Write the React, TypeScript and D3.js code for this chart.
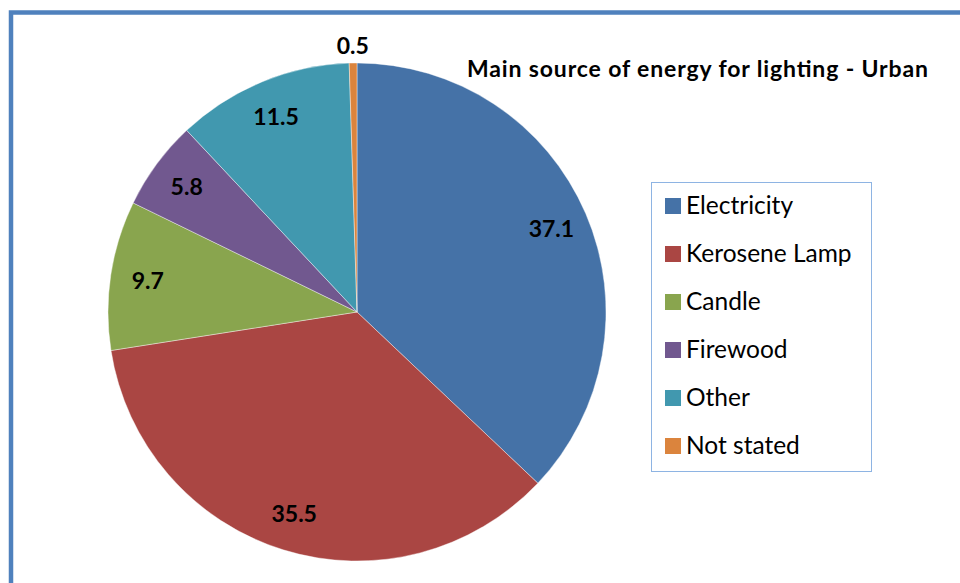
import React from 'react'
import * as d3 from 'd3'

// chart values
const categories: string[] = ['Electricity', 'Kerosene Lamp', 'Candle', 'Firewood', 'Other', 'Not stated']
const shares: number[] = [37.1, 35.5, 9.7, 5.8, 11.5, 0.5]
const colours: string[] = ['#4572a7', '#aa4643', '#89a54e', '#71588f', '#4198af', '#db843d']
const title = 'Main source of energy for lighting - Urban'

interface Slice {
    name: string
    value: number
    colour: string
}

const slices: Slice[] = categories.map((name, i) => ({ name, value: shares[i], colour: colours[i] }))

const width = 960
const height = 583
const font = "Lato, 'Open Sans', 'DejaVu Sans', sans-serif"

const App = () => {
    const cx = 357
    const cy = 312
    const radius = 249

    const pie = d3.pie<Slice>().sort(null).value(d => d.value)
    const arcs = pie(slices)

    const arc = d3.arc<d3.PieArcDatum<Slice>>().innerRadius(0).outerRadius(radius)
    // labels sit at about 0.85 of the radius, tiny slices get theirs outside
    const labelArc = d3.arc<d3.PieArcDatum<Slice>>().innerRadius(radius * 0.7).outerRadius(radius)
    const outerLabelArc = d3.arc<d3.PieArcDatum<Slice>>().innerRadius(radius * 1.07).outerRadius(radius * 1.07)

    // legend layout
    const legendX = 651
    const legendY = 182
    const legendW = 220
    const legendH = 289
    const legendRow = d3.scaleBand<string>()
        .domain(categories)
        .range([legendY, legendY + legendH - 1])

    return (
        <svg width={width} height={height} style={{ position: 'absolute', left: 0, top: 0, background: '#fff' }}>
            <rect x={11} y={12.5} width={width + 20} height={height + 20} fill="#fff" stroke="#4f81bd" strokeWidth={4.5} />

            <g transform={`translate(${cx},${cy})`}>
                {arcs.map(a => (
                    <path key={`slice-${a.data.name}`} d={arc(a) || ''} fill={a.data.colour} stroke="#ffffff" strokeOpacity={0.5} strokeWidth={0.8} />
                ))}
                {arcs.map(a => {
                    const small = a.data.value < 2
                    const [lx, ly] = small ? outerLabelArc.centroid(a) : labelArc.centroid(a)
                    return (
                        <text key={`label-${a.data.name}`} x={lx} y={ly} dy="0.36em" textAnchor="middle"
                              fontFamily={font} fontWeight="bold" fontSize={23} fill="#000">
                            {a.data.value.toFixed(1)}
                        </text>
                    )
                })}
            </g>

            <text x={467} y={77} fontFamily={font} fontWeight="bold" fontSize={23} textLength={461}
                  lengthAdjust="spacing" fill="#000">{title}</text>

            <rect x={legendX + 0.5} y={legendY + 0.5} width={legendW} height={legendH} fill="#fff" stroke="#8eb4e3" strokeWidth={1} />
            {slices.map(s => {
                const y = (legendRow(s.name) || 0) + legendRow.bandwidth() / 2
                return (
                    <g key={`legend-${s.name}`}>
                        <rect x={legendX + 14} y={y - 8} width={16} height={16} fill={s.colour} />
                        <text x={legendX + 35} y={y} dy="0.33em" fontFamily={font} fontSize={24.5} fill="#000">{s.name}</text>
                    </g>
                )
            })}
        </svg>
    )
}

export default App
